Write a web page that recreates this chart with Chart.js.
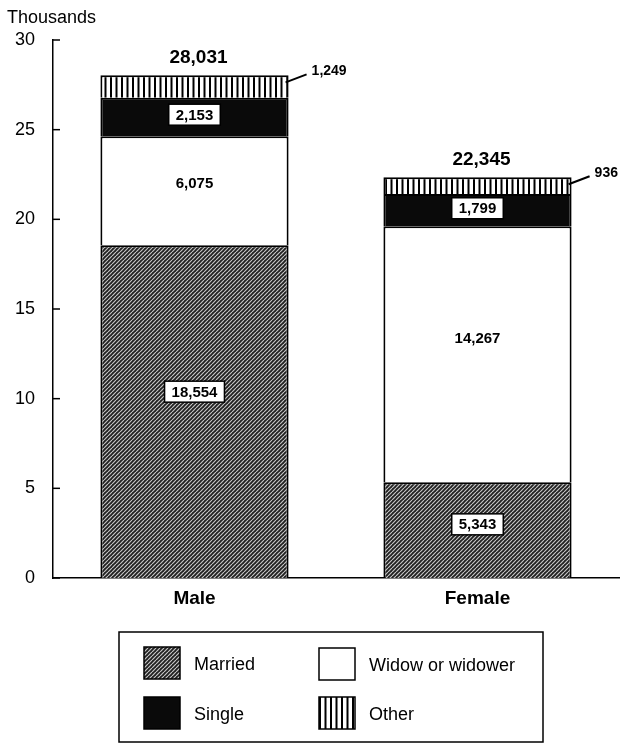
<!DOCTYPE html>
<html>
<head>
<meta charset="utf-8">
<script src="https://cdn.jsdelivr.net/npm/chart.js@4.4.1/dist/chart.umd.min.js"></script>
<style>
    body { margin: 0; background: #fff; }
    #wrap { width: 621px; height: 745px; position: relative; }
</style>
</head>
<body>
<div id="wrap"><canvas id="maritalChart"></canvas></div>
<script>
// ====== DATA ======
const categories = ["Male", "Female"];
const married = [18554, 5343];
const widowed = [6075, 14267];
const single = [2153, 1799];
const other = [1249, 936];
const seriesNames = ["Married", "Widow or widower", "Single", "Other"];
const yTicks = [0, 5, 10, 15, 20, 25, 30];

const seriesValues = [married, widowed, single, other];
const totals = categories.map((c, i) => married[i] + widowed[i] + single[i] + other[i]);
const FONT = "'Liberation Sans', Arial, Helvetica, sans-serif";

// ====== PATTERNS ======
function makePattern(w, h, draw) {
    const c = document.createElement("canvas");
    c.width = w;
    c.height = h;
    const g = c.getContext("2d");
    draw(g, w, h);
    return document.createElement("canvas").getContext("2d").createPattern(c, "repeat");
}

const hatchPattern = makePattern(4, 4, (g, s) => {
    g.fillStyle = "#202020";
    g.fillRect(0, 0, s, s);
    g.strokeStyle = "#c4c4c4";
    g.lineWidth = 1.2;
    for (let k = -s; k <= s; k += s) {
        g.beginPath();
        g.moveTo(k, s);
        g.lineTo(k + s, 0);
        g.stroke();
    }
});

const stripePattern = makePattern(11, 4, (g, w, h) => {
    g.fillStyle = "#fff";
    g.fillRect(0, 0, w, h);
    g.fillStyle = "#000";
    g.fillRect(0, 0, 2, h);
    g.fillRect(5.5, 0, 2, h);
});

const fills = [hatchPattern, "#ffffff", "#0a0a0a", stripePattern];

// ====== LABELS, TICKS, LEGEND ======
function boxedText(ctx, txt, x, y) {
    const w = ctx.measureText(txt).width + 14;
    ctx.fillStyle = "#fff";
    ctx.fillRect(x - w / 2, y - 10.5, w, 21);
    ctx.strokeStyle = "#000";
    ctx.lineWidth = 1.5;
    ctx.strokeRect(x - w / 2, y - 10.5, w, 21);
    ctx.fillStyle = "#000";
    ctx.fillText(txt, x, y + 1);
}

const decorPlugin = {
    id: "decor",
    afterDatasetsDraw(chart) {
        const ctx = chart.ctx;
        const area = chart.chartArea;
        const yScale = chart.scales.y;
        ctx.save();

        // small ticks inside the y axis
        ctx.strokeStyle = "#000";
        ctx.lineWidth = 1.5;
        yTicks.forEach(t => {
            const py = yScale.getPixelForValue(t);
            ctx.beginPath();
            ctx.moveTo(area.left, py);
            ctx.lineTo(area.left + 7, py);
            ctx.stroke();
        });

        // axis title
        ctx.fillStyle = "#000";
        ctx.font = "18px " + FONT;
        ctx.textAlign = "left";
        ctx.textBaseline = "middle";
        ctx.fillText("Thousands", 7, 18);

        ctx.textAlign = "center";
        chart.data.datasets.forEach((ds, di) => {
            const meta = chart.getDatasetMeta(di);
            meta.data.forEach((bar, i) => {
                const txt = seriesValues[di][i].toLocaleString("en-US");
                const h = bar.base - bar.y;
                const ly = bar.base - h * 0.56;
                if (di === 3) {
                    const right = bar.x + bar.width / 2;
                    ctx.strokeStyle = "#000";
                    ctx.lineWidth = 2;
                    ctx.beginPath();
                    ctx.moveTo(right - 3, bar.y + 7);
                    ctx.lineTo(right + 18, bar.y - 1);
                    ctx.stroke();
                    ctx.font = "bold 14px " + FONT;
                    ctx.textAlign = "left";
                    ctx.fillStyle = "#000";
                    ctx.fillText(txt, right + 23, bar.y - 4);
                    ctx.textAlign = "center";
                    // total above the bar
                    ctx.font = "bold 19px " + FONT;
                    ctx.fillText(totals[i].toLocaleString("en-US"), bar.x + 4, bar.y - 18);
                } else if (di === 1) {
                    ctx.font = "bold 15px " + FONT;
                    ctx.fillStyle = "#000";
                    ctx.fillText(txt, bar.x, ly);
                } else {
                    ctx.font = "bold 15px " + FONT;
                    boxedText(ctx, txt, bar.x, ly);
                }
            });
        });
        ctx.restore();
    },
    afterDraw(chart) {
        const ctx = chart.ctx;
        ctx.save();
        ctx.strokeStyle = "#000";
        ctx.lineWidth = 1.5;
        ctx.strokeRect(119, 632, 424, 110);
        const spots = [[144, 647], [319, 648], [144, 697], [319, 697]];
        ctx.font = "18px " + FONT;
        ctx.textAlign = "left";
        ctx.textBaseline = "middle";
        spots.forEach((p, i) => {
            ctx.fillStyle = fills[i];
            ctx.fillRect(p[0], p[1], 36, 32);
            ctx.strokeStyle = "#000";
            ctx.lineWidth = 1.5;
            ctx.strokeRect(p[0], p[1], 36, 32);
            ctx.fillStyle = "#000";
            ctx.fillText(seriesNames[i], p[0] + 50, p[1] + 18);
        });
        ctx.restore();
    }
};

// ====== CHART ======
const chart = new Chart(document.getElementById("maritalChart"), {
    type: "bar",
    data: {
        labels: categories,
        datasets: seriesValues.map((vals, i) => ({
            label: seriesNames[i],
            data: vals.map(v => v / 1000),
            backgroundColor: fills[i],
            borderColor: "#000",
            borderWidth: 2,
            borderSkipped: "bottom",
            barPercentage: 0.665,
            categoryPercentage: 1
        }))
    },
    options: {
        responsive: true,
        maintainAspectRatio: false,
        animation: false,
        layout: { padding: { top: 40, right: 2, bottom: 127, left: 0 } },
        plugins: {
            legend: { display: false },
            tooltip: { enabled: false }
        },
        scales: {
            x: {
                stacked: true,
                grid: { display: false, drawTicks: false },
                border: { display: true, color: "#000", width: 1.5 },
                ticks: { color: "#000", padding: 9, font: { family: FONT, size: 19, weight: "bold" } },
                afterFit: s => { s.height = 40; }
            },
            y: {
                stacked: true,
                min: 0,
                max: 30,
                grid: { display: false, drawTicks: false },
                border: { display: true, color: "#000", width: 1.5 },
                ticks: { stepSize: 5, color: "#000", padding: 18, font: { family: FONT, size: 18 } },
                afterFit: s => { s.width = 53; }
            }
        }
    },
    plugins: [decorPlugin]
});
</script>
</body>
</html>
